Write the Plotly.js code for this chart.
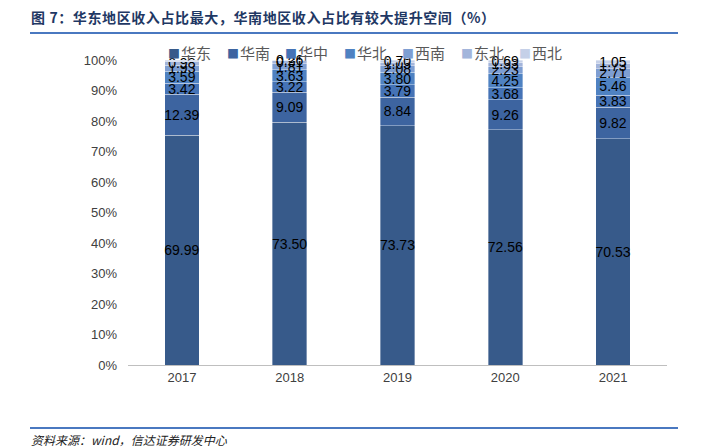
<!DOCTYPE html>
<html><head><meta charset="utf-8">
<script src="https://cdn.plot.ly/plotly-3.0.1.min.js"></script>
<style>
body{margin:0;background:#fff;}
#wrap{position:relative;width:702px;height:447px;}
#title{position:absolute;left:31px;top:7px;font-family:"Noto Sans CJK SC";font-weight:bold;font-size:14px;color:#1F3864;letter-spacing:0.6px;}
#l1{position:absolute;left:30px;top:32px;width:648px;height:2px;background:#4A78C0;}
#l2{position:absolute;left:30px;top:427px;width:648px;height:2px;background:#4A78C0;}
#src{position:absolute;left:31px;top:431px;font-family:"Noto Sans CJK SC";font-style:italic;font-size:12px;color:#222;}
#chart{position:absolute;left:0;top:0;width:702px;height:447px;}
</style></head>
<body><div id="wrap"><div id="chart"></div>
<div id="title">图 7：华东地区收入占比最大，华南地区收入占比有较大提升空间（%）</div>
<div id="l1"></div><div id="l2"></div>
<div id="src">资料来源：wind，信达证券研发中心</div></div>
<script>
const years = ['2017','2018','2019','2020','2021'];
const seriesNames = ['华东','华南','华中','华北','西南','东北','西北'];
const huadong = [69.99, 73.50, 73.73, 72.56, 70.53];
const huanan  = [12.39, 9.09, 8.84, 9.26, 9.82];
const huazhong= [3.42, 3.22, 3.79, 3.68, 3.83];
const huabei  = [3.59, 3.63, 3.80, 4.25, 5.46];
const xinan   = [1.93, 1.81, 2.08, 2.23, 2.71];
const dongbei = [0.98, 0.91, 1.03, 1.33, 1.73];
const xibei   = [0.57, 0.26, 0.70, 0.69, 1.05];
const values = [huadong, huanan, huazhong, huabei, xinan, dongbei, xibei];
const colors = ['#375A8A','#3D64A0','#4573B6','#4F82C2','#7E9ED2','#A3B5DB','#C5D0E8'];
const traces = values.map((v,i)=>({
  type:'bar', name:seriesNames[i], x:years, y:v,
  text:v.map(d=>d.toFixed(2)), textposition:'inside', insidetextanchor:'middle',
  textangle:0, constraintext:'none', cliponaxis:false,
  textfont:{family:'Liberation Sans, Arial', size:14, color:'#000'},
  marker:{color:colors[i], line:{color:'rgba(255,255,255,0.6)', width:0.6}},
  hoverinfo:'skip', showlegend:false
}));
// legend drawn as annotations (one row, compact spacing like the original)
const plotLeft = 128, plotWidth = 539, legendStart = 166, legendStep = 58.5;
const legendAnn = seriesNames.map((n,i)=>({
  xref:'paper', yref:'paper', x:(legendStart + i*legendStep - plotLeft)/plotWidth, y:1.023,
  xanchor:'left', yanchor:'middle', showarrow:false,
  text:'<span style="color:'+colors[i]+';font-size:12px">■</span><span style="font-size:4px"> </span>'+n,
  font:{family:'Noto Sans CJK SC', size:15, color:'#595959'}
}));
const layout = {
  width:702, height:447, barmode:'stack', barnorm:'percent', bargap:0.68,
  margin:{l:128, r:35, t:60, b:82},
  paper_bgcolor:'rgba(0,0,0,0)', plot_bgcolor:'rgba(0,0,0,0)',
  showlegend:false, annotations:legendAnn,
  xaxis:{showline:true, linecolor:'#BFBFBF', linewidth:1, ticks:'', tickfont:{family:'Liberation Sans, Arial', size:13, color:'#404040'}},
  yaxis:{range:[0,100], dtick:10, ticksuffix:'%', showgrid:false, zeroline:false, showline:false,
    ticklabelstandoff:10,
    tickfont:{family:'Liberation Sans, Arial', size:13, color:'#404040'}}
};
Plotly.newPlot('chart', traces, layout, {displayModeBar:false, staticPlot:true});
</script></body></html>
